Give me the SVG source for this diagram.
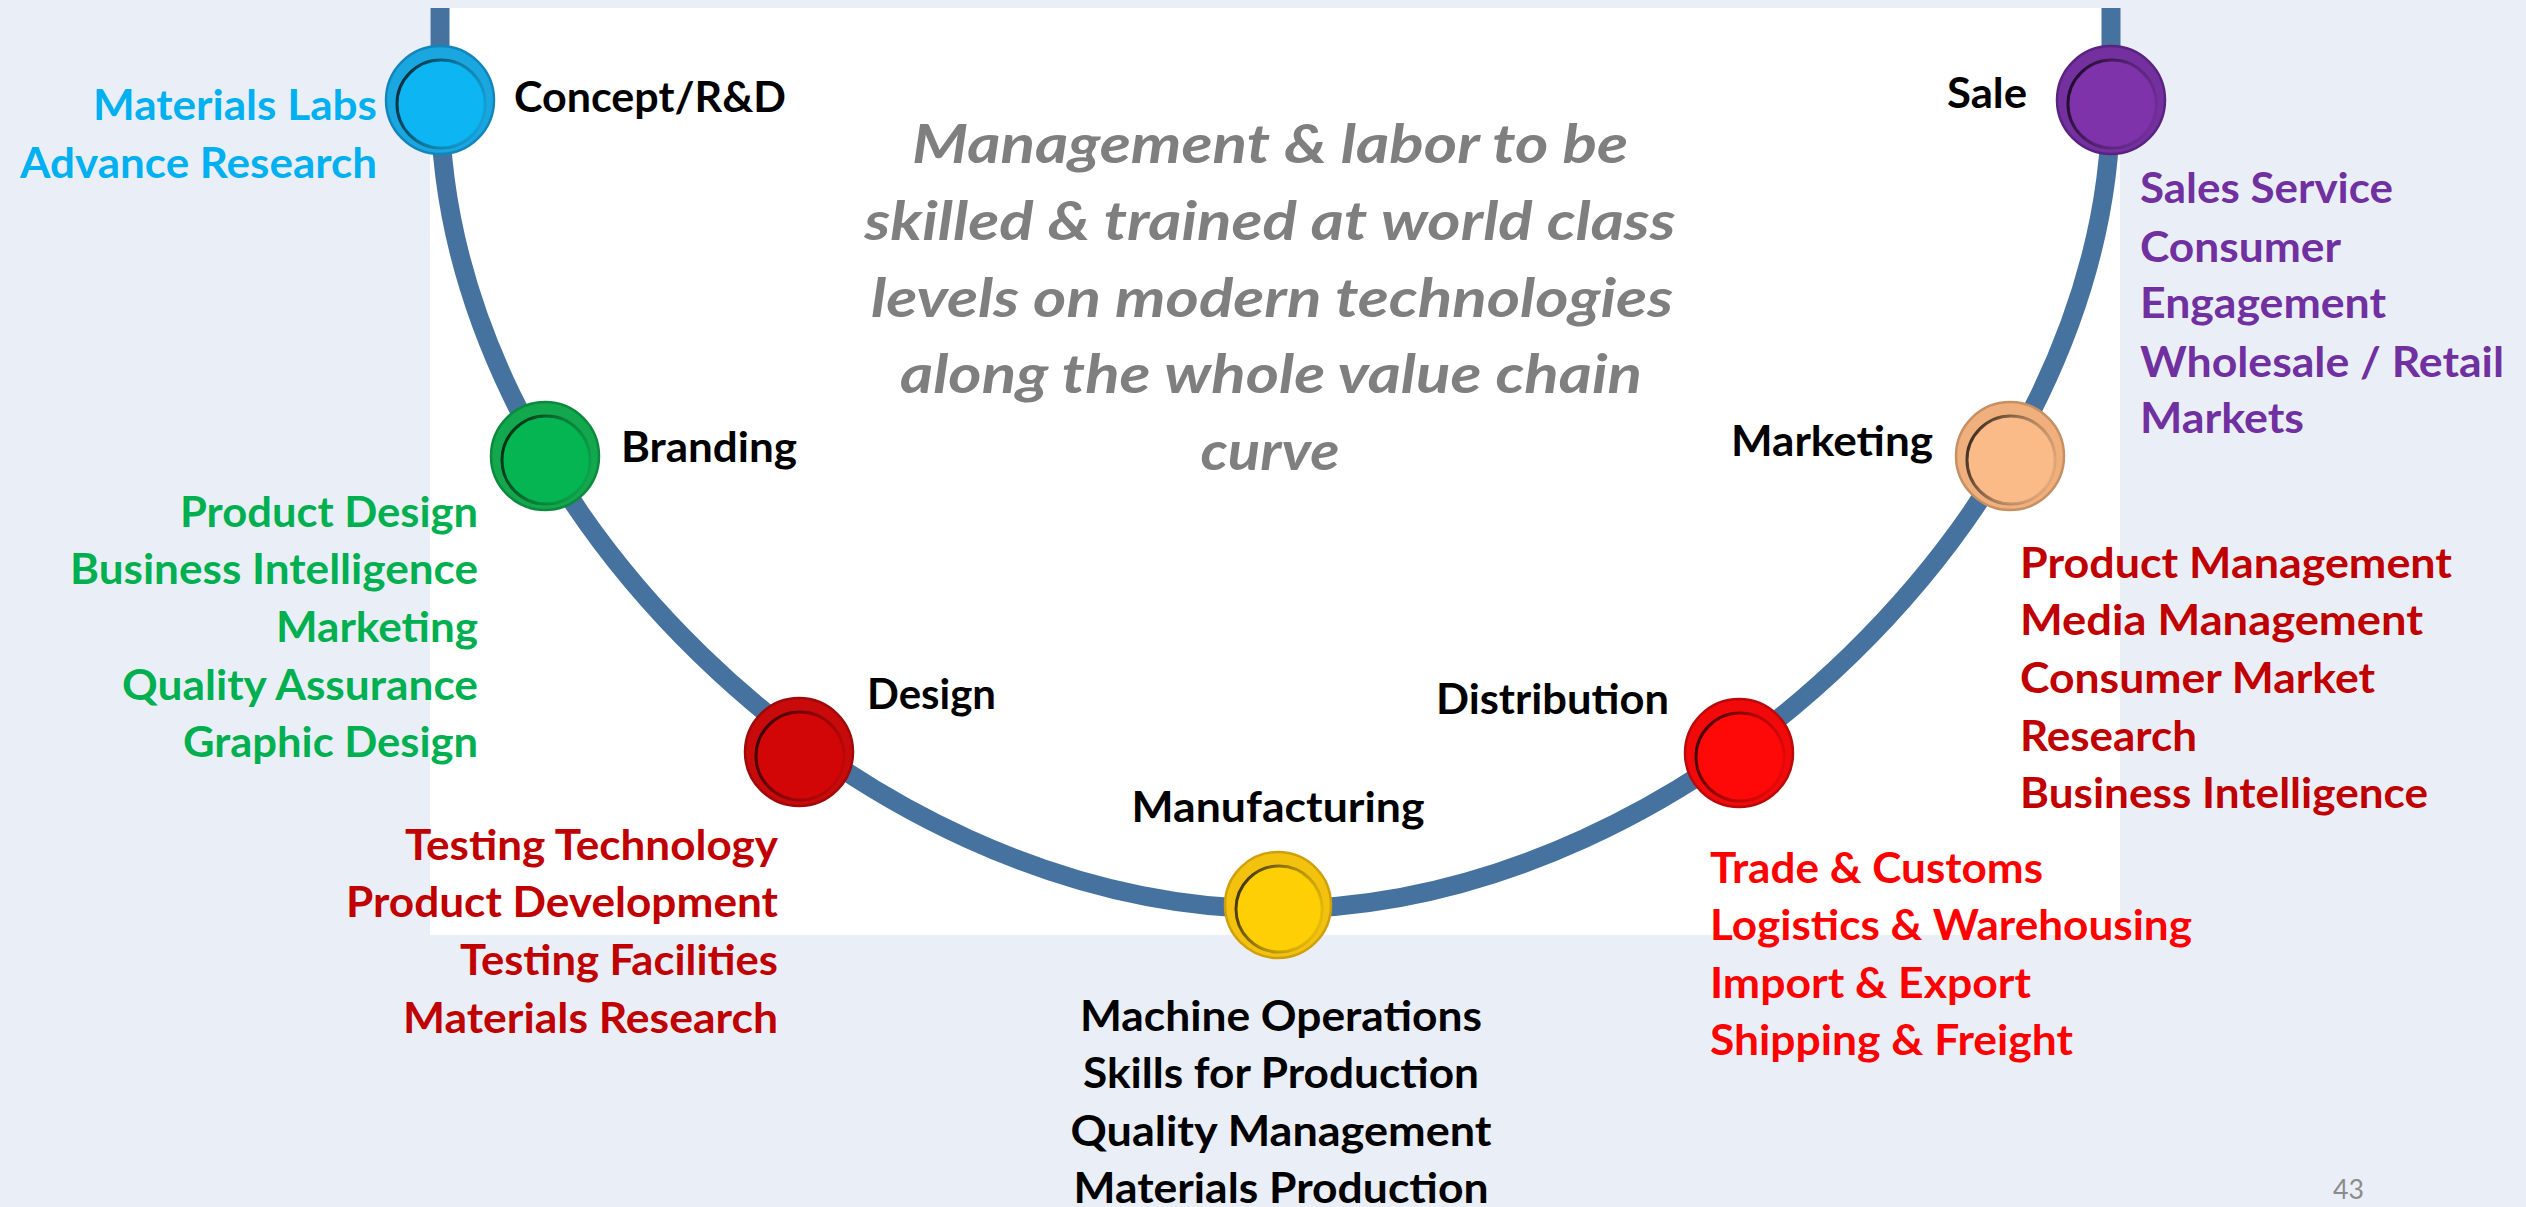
<svg xmlns="http://www.w3.org/2000/svg" width="2526" height="1207" viewBox="0 0 2526 1207">
<defs>
<linearGradient id="ringShade" x1="0" y1="0.3" x2="1" y2="0.7">
<stop offset="0" stop-color="#000" stop-opacity="0.75"/>
<stop offset="0.5" stop-color="#000" stop-opacity="0.3"/>
<stop offset="1" stop-color="#000" stop-opacity="0.05"/>
</linearGradient>
<linearGradient id="rimShade" x1="0" y1="0" x2="1" y2="1">
<stop offset="0" stop-color="#000" stop-opacity="0.35"/>
<stop offset="1" stop-color="#fff" stop-opacity="0.15"/>
</linearGradient>
</defs>
<style>
.lbl{font-family:Lato,"Open Sans","Liberation Sans",sans-serif;font-weight:700;font-size:42px}
.blk{fill:#000}
.cyan{fill:#00B0F0}
.green{fill:#00B050}
.dred{fill:#C00000}
.red{fill:#FF0000}
.purple{fill:#7030A0}
.center{font-family:Lato,"Open Sans","Liberation Sans",sans-serif;font-weight:700;font-style:italic;font-size:54px;fill:#7F7F7F}
.pg{font-family:Lato,"Open Sans","Liberation Sans",sans-serif;font-size:27px;fill:#8C8C8C}
.curve{fill:none;stroke:#45729E;stroke-width:19}
.rim{stroke-width:2.5}
.face{stroke:url(#ringShade);stroke-width:3}
</style>
<rect x="0" y="0" width="2526" height="1207" fill="#EAEFF7"/>
<rect x="430" y="8" width="1690" height="927" fill="#FFFFFF"/>

<g id="connectors">
<path class="curve" d="M440,8 L440,100 C440,500 856,909 1276,909 C1696,909 2111,500 2111,100 L2111,8"/>
</g>

<g id="node-concept">
<circle cx="440" cy="100" r="54" fill="#1AA6DE" stroke="#1286BA" class="rim"/>
<circle cx="441" cy="104" r="44" fill="#0DB5F3" class="face"/>
<text class="lbl blk" x="514" y="112" textLength="272" lengthAdjust="spacingAndGlyphs">Concept/R&amp;D</text>
<text class="lbl cyan" x="377" y="120" text-anchor="end" textLength="284" lengthAdjust="spacingAndGlyphs">Materials Labs</text>
<text class="lbl cyan" x="377" y="178" text-anchor="end" textLength="357" lengthAdjust="spacingAndGlyphs">Advance Research</text>
</g>

<g id="node-branding">
<circle cx="545" cy="456" r="54" fill="#13A84E" stroke="#0B8A3E" class="rim"/>
<circle cx="546" cy="460" r="44" fill="#05B552" class="face"/>
<text class="lbl blk" x="621" y="462" textLength="176" lengthAdjust="spacingAndGlyphs">Branding</text>
<text class="lbl green" x="478" y="527" text-anchor="end" textLength="298" lengthAdjust="spacingAndGlyphs">Product Design</text>
<text class="lbl green" x="478" y="584" text-anchor="end" textLength="408" lengthAdjust="spacingAndGlyphs">Business Intelligence</text>
<text class="lbl green" x="478" y="642" text-anchor="end" textLength="202" lengthAdjust="spacingAndGlyphs">Marketing</text>
<text class="lbl green" x="478" y="700" text-anchor="end" textLength="356" lengthAdjust="spacingAndGlyphs">Quality Assurance</text>
<text class="lbl green" x="478" y="757" text-anchor="end" textLength="295" lengthAdjust="spacingAndGlyphs">Graphic Design</text>
</g>

<g id="node-design">
<circle cx="799" cy="752" r="54" fill="#C80A0A" stroke="#9E0A0A" class="rim"/>
<circle cx="800" cy="756" r="44" fill="#D20606" class="face"/>
<text class="lbl blk" x="867" y="709" textLength="129" lengthAdjust="spacingAndGlyphs">Design</text>
<text class="lbl dred" x="778" y="860" text-anchor="end" textLength="373" lengthAdjust="spacingAndGlyphs">Testing Technology</text>
<text class="lbl dred" x="778" y="917" text-anchor="end" textLength="432" lengthAdjust="spacingAndGlyphs">Product Development</text>
<text class="lbl dred" x="778" y="975" text-anchor="end" textLength="318" lengthAdjust="spacingAndGlyphs">Testing Facilities</text>
<text class="lbl dred" x="778" y="1033" text-anchor="end" textLength="375" lengthAdjust="spacingAndGlyphs">Materials Research</text>
</g>

<g id="node-manufacturing">
<circle cx="1278" cy="905" r="53" fill="#F2C20F" stroke="#CFA00A" class="rim"/>
<circle cx="1279" cy="909" r="43" fill="#FFCF05" class="face"/>
<text class="lbl blk" x="1278" y="822" text-anchor="middle" textLength="293" lengthAdjust="spacingAndGlyphs">Manufacturing</text>
<text class="lbl blk" x="1281" y="1031" text-anchor="middle" textLength="402" lengthAdjust="spacingAndGlyphs">Machine Operations</text>
<text class="lbl blk" x="1281" y="1088" text-anchor="middle" textLength="396" lengthAdjust="spacingAndGlyphs">Skills for Production</text>
<text class="lbl blk" x="1281" y="1146" text-anchor="middle" textLength="421" lengthAdjust="spacingAndGlyphs">Quality Management</text>
<text class="lbl blk" x="1281" y="1203" text-anchor="middle" textLength="415" lengthAdjust="spacingAndGlyphs">Materials Production</text>
</g>

<g id="node-distribution">
<circle cx="1739" cy="753" r="54" fill="#F20A0A" stroke="#B80A0A" class="rim"/>
<circle cx="1740" cy="757" r="44" fill="#FF0808" class="face"/>
<text class="lbl blk" x="1436" y="714" textLength="233" lengthAdjust="spacingAndGlyphs">Distribution</text>
<text class="lbl red" x="1710" y="883" textLength="333" lengthAdjust="spacingAndGlyphs">Trade &amp; Customs</text>
<text class="lbl red" x="1710" y="940" textLength="482" lengthAdjust="spacingAndGlyphs">Logistics &amp; Warehousing</text>
<text class="lbl red" x="1710" y="998" textLength="321" lengthAdjust="spacingAndGlyphs">Import &amp; Export</text>
<text class="lbl red" x="1710" y="1055" textLength="363" lengthAdjust="spacingAndGlyphs">Shipping &amp; Freight</text>
</g>

<g id="node-marketing">
<circle cx="2010" cy="456" r="54" fill="#EFB07E" stroke="#C78F62" class="rim"/>
<circle cx="2011" cy="460" r="44" fill="#FBBB88" class="face"/>
<text class="lbl blk" x="1731" y="456" textLength="202" lengthAdjust="spacingAndGlyphs">Marketing</text>
<text class="lbl dred" x="2020" y="578" textLength="432" lengthAdjust="spacingAndGlyphs">Product Management</text>
<text class="lbl dred" x="2020" y="635" textLength="403" lengthAdjust="spacingAndGlyphs">Media Management</text>
<text class="lbl dred" x="2020" y="693" textLength="355" lengthAdjust="spacingAndGlyphs">Consumer Market</text>
<text class="lbl dred" x="2020" y="751" textLength="177" lengthAdjust="spacingAndGlyphs">Research</text>
<text class="lbl dred" x="2020" y="808" textLength="408" lengthAdjust="spacingAndGlyphs">Business Intelligence</text>
</g>

<g id="node-sale">
<circle cx="2111" cy="100" r="54" fill="#7530A0" stroke="#5B2380" class="rim"/>
<circle cx="2112" cy="104" r="44" fill="#7E33AA" class="face"/>
<text class="lbl blk" x="1947" y="108" textLength="80" lengthAdjust="spacingAndGlyphs">Sale</text>
<text class="lbl purple" x="2140" y="203" textLength="253" lengthAdjust="spacingAndGlyphs">Sales Service</text>
<text class="lbl purple" x="2140" y="262" textLength="201" lengthAdjust="spacingAndGlyphs">Consumer</text>
<text class="lbl purple" x="2140" y="318" textLength="246" lengthAdjust="spacingAndGlyphs">Engagement</text>
<text class="lbl purple" x="2140" y="377" textLength="364" lengthAdjust="spacingAndGlyphs">Wholesale / Retail</text>
<text class="lbl purple" x="2140" y="433" textLength="164" lengthAdjust="spacingAndGlyphs">Markets</text>
</g>

<g id="central-note">
<text class="center" x="1270" y="163" text-anchor="middle" textLength="716" lengthAdjust="spacingAndGlyphs">Management &amp; labor to be</text>
<text class="center" x="1270" y="240" text-anchor="middle" textLength="811" lengthAdjust="spacingAndGlyphs">skilled &amp; trained at world class</text>
<text class="center" x="1272" y="317" text-anchor="middle" textLength="802" lengthAdjust="spacingAndGlyphs">levels on modern technologies</text>
<text class="center" x="1271" y="393" text-anchor="middle" textLength="742" lengthAdjust="spacingAndGlyphs">along the whole value chain</text>
<text class="center" x="1270" y="470" text-anchor="middle" textLength="139" lengthAdjust="spacingAndGlyphs">curve</text>
</g>

<text class="pg" x="2333" y="1199" textLength="31" lengthAdjust="spacingAndGlyphs">43</text>
</svg>
